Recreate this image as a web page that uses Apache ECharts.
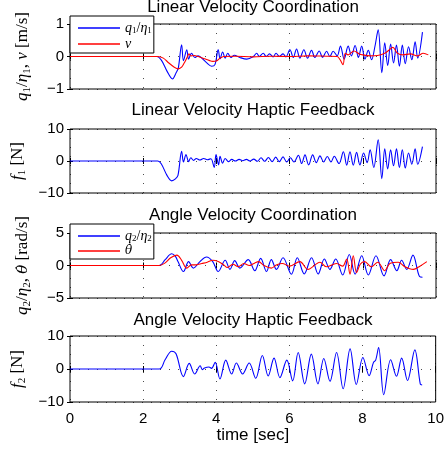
<!DOCTYPE html>
<html>
<head>
<meta charset="utf-8">
<script src="https://cdn.jsdelivr.net/npm/echarts@6/dist/echarts.min.js"></script>
<style>html,body{margin:0;padding:0;background:#fff}#c{width:447px;height:454px}</style>
</head>
<body>
<div id="c"></div>
<script>
// ---- data (time [s], value) ----
const tQ1 = [0,2.37,2.5,2.65,2.8,2.9,2.96,3.05,3.1,3.19,3.24,3.32,3.41,3.5,3.6,3.73,3.87,3.96,4.05,4.1,4.17,4.24,4.31,4.4,4.49,4.64,4.83,5.01,5.1,5.17,5.28,5.36,5.45,5.55,5.63,5.72,5.82,5.9,6.01,6.1,6.19,6.28,6.39,6.49,6.6,6.69,6.81,6.9,7.01,7.1,7.19,7.3,7.39,7.49,7.6,7.69,7.79,7.88,7.97,8.06,8.15,8.24,8.33,8.42,8.52,8.6,8.68,8.76,8.84,8.92,9.0,9.08,9.16,9.25,9.34,9.43,9.5,9.63];
const q1  = [0,0,-0.12,-0.45,-0.69,-0.5,-0.35,0.36,-0.13,0.21,-0.08,0.1,-0.03,0.02,-0.05,-0.19,-0.3,-0.25,0.21,-0.07,0.14,-0.05,0.1,-0.03,0.04,-0.03,-0.08,0,0.1,0,0.1,0,0.08,-0.01,0.1,0,0.08,-0.01,0.21,-0.03,0.23,-0.05,0.21,-0.05,0.19,-0.03,0.17,-0.03,0.16,0,0.16,0.02,0.32,-0.08,0.32,0.02,0.34,-0.03,0.32,-0.08,0.19,-0.1,0.3,0.82,-0.5,0.42,-0.28,0.38,-0.2,0.35,-0.3,0.35,-0.22,0.3,-0.1,0.45,-0.05,0.75];
const tNu = [0,2.4,2.55,2.7,2.85,2.96,3.05,3.12,3.19,3.25,3.3,3.4,3.5,3.6,3.7,3.8,3.9,4.0,4.1,4.2,4.5,5.0,5.5,6.0,6.5,7.0,7.3,7.38,7.46,7.52,7.6,7.76,7.9,8.0,8.2,8.4,8.6,8.72,8.82,8.95,9.1,9.3,9.5,9.65,9.79];
const nu  = [0,0,-0.05,-0.2,-0.33,-0.38,-0.33,-0.2,-0.05,0.08,0.02,0.03,0,-0.04,-0.08,-0.12,-0.15,-0.14,-0.05,0,0.01,-0.01,0.01,0,0.02,0.01,0,-0.1,-0.25,0.1,0.05,0.17,0.08,0.05,0.02,0.03,0.1,0.2,0.28,0.1,0.05,0.08,0.02,0.1,0.05];
const tF1 = [0,2.4,2.5,2.65,2.78,2.88,2.95,3.05,3.1,3.17,3.24,3.3,3.38,3.45,3.55,3.65,3.75,3.85,3.94,3.99,4.06,4.1,4.17,4.24,4.33,4.42,4.52,4.62,4.72,4.82,4.92,5.02,5.12,5.22,5.32,5.42,5.52,5.62,5.72,5.82,5.92,6.02,6.12,6.24,6.33,6.42,6.52,6.63,6.73,6.83,6.93,7.03,7.13,7.22,7.35,7.47,7.56,7.65,7.74,7.83,7.92,8.02,8.12,8.2,8.3,8.42,8.52,8.6,8.68,8.76,8.84,8.92,9.0,9.08,9.16,9.25,9.34,9.43,9.5,9.63];
const f1  = [0,0,-1.0,-4.5,-6.2,-5.6,-4.5,3.0,-0.3,2.0,-0.2,1.0,0.2,0.8,0.3,0.8,0.4,0.7,-2.0,2.0,-1.2,1.5,-0.7,0.8,-0.2,0.5,0,0.5,0.1,0.5,0,0.6,-0.1,1.0,-0.1,1.1,-0.2,1.2,-0.2,1.3,-0.3,1.0,-0.3,1.8,-0.8,1.9,-1.2,1.9,-0.5,1.6,-0.3,1.4,-0.3,1.5,-0.8,2.9,-1.3,2.9,-1.3,2.7,-1.2,2.5,-0.5,3.5,-2.0,6.6,-5.5,3.8,-2.5,3.5,-1.5,3.8,-2.0,3.5,-2.2,2.5,-1.0,3.8,-1.0,4.5];
const tQ2 = [0,2.44,2.6,2.78,2.88,2.95,3.1,3.24,3.37,3.55,3.73,3.9,4.05,4.24,4.37,4.5,4.64,4.87,5.05,5.21,5.37,5.5,5.64,5.82,6.05,6.21,6.4,6.6,6.78,6.95,7.1,7.26,7.45,7.63,7.79,7.97,8.15,8.36,8.58,8.76,8.93,9.06,9.2,9.37,9.55,9.63];
const q2  = [0,0,0.9,1.8,1.4,0.6,-0.93,0.6,-0.4,0.6,1.3,0.6,-0.93,0.8,-0.6,0.75,-0.4,0.9,-0.8,1.1,-0.93,0.9,-0.6,1.2,-1.35,1.2,-1.3,1.2,-1.3,1.0,-0.6,1.0,-1.45,1.7,-1.35,1.5,-1.45,1.5,-1.6,0.9,-0.8,0.8,-0.6,1.6,-1.7,-1.8];
const tTh = [0,2.44,2.6,2.75,2.92,3.05,3.19,3.32,3.45,3.6,3.75,3.9,4.05,4.2,4.3,4.45,4.6,4.75,4.9,5.05,5.15,5.3,5.5,5.65,5.8,6.0,6.28,6.5,6.83,7.0,7.28,7.45,7.56,7.65,7.74,7.83,7.93,8.05,8.23,8.41,8.6,8.74,8.97,9.15,9.38,9.56,9.75];
const th  = [0,0,0.4,1.2,1.6,0.8,-0.4,0.1,0.1,0.3,0.5,0.8,0.6,0.1,-0.3,0.2,-0.2,0.3,0,0.4,0.6,0,-0.4,0.1,0.3,-0.1,0.6,-0.6,0.5,-0.2,0.3,-0.1,1.0,-1.35,1.5,-1.1,0.2,0.6,-0.2,0.5,-0.8,0.3,0.5,-0.2,-0.6,-0.1,0.6];
const tF2 = [0,2.44,2.6,2.78,2.9,3.1,3.26,3.41,3.56,3.62,3.68,3.8,3.87,3.97,4.1,4.26,4.42,4.55,4.72,4.9,5.08,5.26,5.42,5.58,5.74,5.93,6.09,6.24,6.42,6.6,6.78,6.94,7.11,7.29,7.47,7.66,7.83,8.01,8.18,8.3,8.36,8.44,8.58,8.77,8.93,9.07,9.23,9.43,9.58,9.63];
const f2  = [0,0,2.8,5.4,4.6,-2.3,1.7,-1.5,1.0,-0.2,0.3,0.6,0.2,2.0,-3.0,2.7,-1.5,1.8,-1.5,1.8,-2.8,4.1,-2.1,3.3,-2.6,2.7,-3.6,5.0,-4.5,4.5,-4.5,3.2,-3.7,5.0,-6.0,6.1,-4.7,3.5,-2.0,2.0,2.7,6.5,-7.8,2.8,-2.2,3.3,-3.5,5.8,-4.6,-4.8];

const titles = ['Linear Velocity Coordination','Linear Velocity Haptic Feedback','Angle Velocity Coordination','Angle Velocity Haptic Feedback'];
const yNames = ['{i|q}{s|1}{n|/}{i|η}{s|1}{n|, }{i|ν}{n| [m/s]}','{i|f}{s|1}{n| [N]}','{i|q}{s|2}{n|/}{i|η}{s|2}{n|, }{t|θ\u0307}{n| [rad/s]}','{i|f}{s|2}{n| [N]}'];
const yRanges = [[-1,1,1],[-10,10,10],[-5,5,5],[-10,10,10]];
const xTickStep = 2;

// ---- layout ----
const grids = [{top:24,height:65},{top:129,height:64},{top:233,height:65},{top:336,height:66}];
const LEFT = 70, RIGHT = 11, XC = 253;
const SANS = 'Liberation Sans, Arial, sans-serif';
const SERIF = 'Liberation Serif, DejaVu Serif, serif';
const DJ = 'DejaVu Serif, serif';
const richY = {
  i:{fontFamily:SERIF,fontStyle:'italic',fontSize:17,color:'#000',lineHeight:20},
  t:{fontFamily:DJ,fontStyle:'italic',fontSize:15,color:'#000',lineHeight:20},
  n:{fontFamily:SERIF,fontSize:17,color:'#000',lineHeight:20},
  s:{fontFamily:SERIF,fontSize:11,color:'#000',verticalAlign:'bottom',lineHeight:11}
};
const richL = {
  i:{fontFamily:SERIF,fontStyle:'italic',fontSize:14,color:'#000',lineHeight:14},
  t:{fontFamily:DJ,fontStyle:'italic',fontSize:12,color:'#000',lineHeight:14},
  n:{fontFamily:SERIF,fontSize:14,color:'#000',lineHeight:14},
  s:{fontFamily:SERIF,fontSize:9,color:'#000',verticalAlign:'bottom',lineHeight:9}
};
const fmt = v => String(v).replace('-', '\u2212');
const dotted = {show:true,lineStyle:{color:'#000',width:1,type:[1,8],opacity:0.7}};

const xAxes = [], yAxes = [];
grids.forEach((g,i)=>{
  const last = i===3;
  xAxes.push({gridIndex:i,type:'value',min:0,max:10,interval:xTickStep,
    axisLine:{show:false},axisTick:{inside:true,length:3,lineStyle:{color:'#000'}},
    axisLabel:{show:last,margin:9,fontSize:15,fontFamily:SANS,color:'#000',formatter:fmt},
    splitLine:dotted,
    name:last?'time [sec]':'',nameLocation:'middle',nameGap:24,
    nameTextStyle:{fontSize:17,fontFamily:SANS,color:'#000'}});
  const r = yRanges[i];
  yAxes.push({gridIndex:i,type:'value',min:r[0],max:r[1],interval:r[2],
    axisLine:{show:false},axisTick:{inside:true,length:3,lineStyle:{color:'#000'}},
    axisLabel:{margin:6,fontSize:15,fontFamily:SANS,color:'#000',formatter:fmt},
    splitLine:dotted,
    name:yNames[i],nameLocation:'middle',nameGap:37,nameRotate:90,
    nameTextStyle:{rich:richY}});
});
grids.forEach((g,i)=>{
  const r = yRanges[i];
  xAxes.push({gridIndex:i,type:'value',position:'top',min:0,max:10,interval:xTickStep,
    axisLine:{show:false},axisTick:{inside:true,length:3,lineStyle:{color:'#000'}},
    axisLabel:{show:false},splitLine:{show:false}});
  yAxes.push({gridIndex:i,type:'value',position:'right',min:r[0],max:r[1],interval:r[2],
    axisLine:{show:false},axisTick:{inside:true,length:3,lineStyle:{color:'#000'}},
    axisLabel:{show:false},splitLine:{show:false}});
});

const pairs = (t,v) => t.map((x,k)=>[x,v[k]]);
const mk = (name,idx,t,v,color) => ({name,type:'line',xAxisIndex:idx,yAxisIndex:idx,
  data:pairs(t,v),showSymbol:false,symbol:'none',smooth:0.35,
  lineStyle:{color,width:1.1},itemStyle:{color},animation:false,z:3});

const legendNames = {q1:'{i|q}{s|1}{n|/}{i|η}{s|1}',nu:'{i|ν}',q2:'{i|q}{s|2}{n|/}{i|η}{s|2}',thd:'{t|θ\u0307}'};
const mkLegend = (top,data) => ({left:70,top,orient:'vertical',icon:'rect',itemWidth:42,itemHeight:1.5,
  itemGap:2,padding:[5,2,2,8],backgroundColor:'#fff',borderColor:'#000',borderWidth:1,borderRadius:0,
  data,formatter:n=>legendNames[n],textStyle:{rich:richL},selectedMode:false});

const chart = echarts.init(document.getElementById('c'),null,{renderer:'canvas'});
chart.setOption({
  animation:false,
  backgroundColor:'#fff',
  grid:grids.map(g=>({left:LEFT,right:RIGHT,top:g.top,height:g.height,show:true,borderColor:'#000',borderWidth:1,backgroundColor:'#fff',containLabel:false})),
  xAxis:xAxes,
  yAxis:yAxes,
  legend:[mkLegend(16,['q1','nu']),mkLegend(224,['q2','thd'])],
  graphic:titles.map((t,i)=>({type:'text',x:XC,y:[7,110.5,215,320][i],
    style:{text:t,fontSize:17,fontFamily:SANS,fill:'#000',textAlign:'center',textVerticalAlign:'middle'}})),
  series:[
    mk('q1',0,tQ1,q1,'#0000ff'),
    mk('nu',0,tNu,nu,'#ff0000'),
    mk('f1',1,tF1,f1,'#0000ff'),
    mk('q2',2,tQ2,q2,'#0000ff'),
    mk('thd',2,tTh,th,'#ff0000'),
    mk('f2',3,tF2,f2,'#0000ff')
  ]
});
</script>
</body>
</html>
